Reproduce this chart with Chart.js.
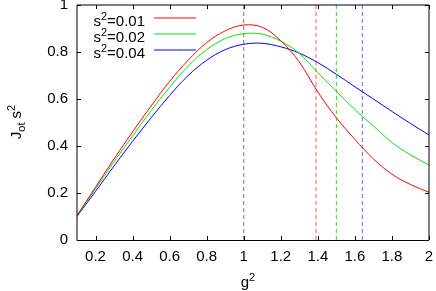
<!DOCTYPE html>
<html>
<head>
<meta charset="utf-8">
<script src="https://cdn.jsdelivr.net/npm/chart.js@4/dist/chart.umd.min.js"></script>
<style>
  html, body { margin: 0; padding: 0; background: #fff; }
</style>
</head>
<body>
<canvas id="chart" width="436" height="291"></canvas>
<script>
// g^2 values along the x axis
const gSquared = [0.1, 0.2, 0.3, 0.4, 0.5, 0.6, 0.7, 0.8, 0.9, 1.0, 1.1, 1.2, 1.3, 1.4, 1.5, 1.6, 1.7, 1.8, 1.9, 2.0];
// J_ot s^2 for each s^2
const jRed   = [0.105, 0.225, 0.345, 0.46, 0.57, 0.675, 0.765, 0.84, 0.89, 0.915, 0.905, 0.848, 0.757, 0.63, 0.52, 0.428, 0.345, 0.28, 0.236, 0.203];
const jGreen = [0.103, 0.218, 0.333, 0.443, 0.55, 0.65, 0.74, 0.81, 0.857, 0.878, 0.876, 0.846, 0.794, 0.712, 0.633, 0.555, 0.485, 0.415, 0.362, 0.319];
const jBlue  = [0.1, 0.207, 0.315, 0.42, 0.52, 0.615, 0.7, 0.765, 0.81, 0.833, 0.837, 0.822, 0.795, 0.755, 0.705, 0.652, 0.6, 0.547, 0.496, 0.447];
const sLabels = ['0.01', '0.02', '0.04'];
const seriesColors = ['#ff0000', '#00e600', '#0000ff'];
const legendColors = ['#ff8080', '#80f080', '#8080ff'];
// vertical dashed markers
const markerX = [1.0, 1.39, 1.5, 1.64];
const markerColors = ['rgba(60,60,60,0.7)', 'rgba(255,60,60,0.85)', 'rgba(0,220,0,0.85)', 'rgba(70,70,255,0.85)'];
const xTicks = [0.2, 0.4, 0.6, 0.8, 1, 1.2, 1.4, 1.6, 1.8, 2];
const yTicks = [0, 0.2, 0.4, 0.6, 0.8, 1];

const FONT = 'Liberation Sans, Arial, sans-serif';

function pts(ys) {
  return gSquared.map((g, i) => ({ x: g, y: ys[i] }));
}

let datasets = [jRed, jGreen, jBlue].map((ys, i) => ({
  data: pts(ys),
  borderColor: seriesColors[i],
  borderWidth: 1,
  pointRadius: 0,
  tension: 0.35,
  fill: false
}));

markerX.forEach((mx, i) => {
  datasets.push({
    data: [{ x: mx, y: 0 }, { x: mx, y: 1 }],
    borderColor: markerColors[i],
    borderWidth: 1,
    borderDash: [4, 3],
    pointRadius: 0,
    fill: false
  });
});

// draws a run of text pieces with sizes and vertical shifts
function richText(ctx, parts, x, y, align) {
  let total = 0;
  parts.forEach(p => { ctx.font = p.size + 'px ' + FONT; total += ctx.measureText(p.t).width; });
  let cx = align === 'right' ? x - total : (align === 'center' ? x - total / 2 : x);
  ctx.textAlign = 'left';
  ctx.textBaseline = 'alphabetic';
  parts.forEach(p => {
    ctx.font = p.size + 'px ' + FONT;
    ctx.fillText(p.t, cx, y + (p.dy || 0));
    cx += ctx.measureText(p.t).width;
  });
}

const decor = {
  id: 'decor',
  afterDraw(chart) {
    const ctx = chart.ctx, a = chart.chartArea;
    const xs = chart.scales.x, ys = chart.scales.y;
    ctx.save();
    ctx.setLineDash([]);
    ctx.globalAlpha = 1;

    // frame
    ctx.lineWidth = 1;
    ctx.strokeStyle = '#000';
    ctx.beginPath();
    ctx.moveTo(a.left, a.top); ctx.lineTo(a.right, a.top);
    ctx.lineTo(a.right, a.bottom);
    ctx.moveTo(a.left, a.top); ctx.lineTo(a.left, a.bottom + 0.5);
    ctx.stroke();
    ctx.beginPath();
    ctx.moveTo(a.left, a.bottom + 0.5); ctx.lineTo(a.right, a.bottom + 0.5);
    ctx.stroke();

    // inward ticks on all sides
    ctx.beginPath();
    xTicks.forEach(v => {
      const px = Math.round(xs.getPixelForValue(v)) + 0.5;
      ctx.moveTo(px, a.bottom); ctx.lineTo(px, a.bottom - 4);
      ctx.moveTo(px, a.top); ctx.lineTo(px, a.top + 4);
    });
    yTicks.forEach(v => {
      const py = Math.round(ys.getPixelForValue(v)) + 0.5;
      ctx.moveTo(a.left, py); ctx.lineTo(a.left + 4, py);
      ctx.moveTo(a.right, py); ctx.lineTo(a.right - 4, py);
    });
    ctx.stroke();

    // legend: sample lines (two soft rows like the antialiased original)
    sLabels.forEach((lab, i) => {
      ctx.fillStyle = legendColors[i];
      ctx.fillRect(154, 17 + i * 16, 42, 2);
    });
    // legend: labels
    ctx.fillStyle = '#000';
    sLabels.forEach((lab, i) => {
      richText(ctx, [
        { t: 's', size: 15 },
        { t: '2', size: 11, dy: -6 },
        { t: '=' + lab, size: 15 }
      ], 145, 25.5 + i * 16, 'right');
    });

    // x title
    richText(ctx, [{ t: 'g', size: 15 }, { t: '2', size: 11, dy: -6 }], 248, 287, 'center');

    // y title
    ctx.translate(21, 122);
    ctx.rotate(-Math.PI / 2);
    richText(ctx, [
      { t: 'J', size: 15 },
      { t: 'ot', size: 11, dy: 4 },
      { t: ' s', size: 15 },
      { t: '2', size: 11, dy: -6 }
    ], 0, 0, 'center');

    ctx.restore();
  }
};

new Chart(document.getElementById('chart'), {
  type: 'line',
  data: { datasets: datasets },
  options: {
    responsive: false,
    animation: false,
    devicePixelRatio: 1,
    layout: { padding: { top: 5, right: 7, left: 0, bottom: 0 } },
    plugins: { legend: { display: false }, tooltip: { enabled: false } },
    scales: {
      x: {
        type: 'linear',
        min: 0.1,
        max: 2,
        afterBuildTicks: s => { s.ticks = xTicks.map(v => ({ value: v })); },
        afterFit: s => { s.height = 51; s.paddingLeft = 0; s.paddingRight = 0; },
        grid: { display: false, drawTicks: false },
        border: { display: false },
        ticks: {
          autoSkip: false, maxRotation: 0, padding: 8,
          color: '#000', font: { family: FONT, size: 15 },
          callback: v => String(v)
        }
      },
      y: {
        min: 0,
        max: 1,
        afterBuildTicks: s => { s.ticks = yTicks.map(v => ({ value: v })); },
        afterFit: s => { s.width = 77; s.paddingTop = 0; s.paddingBottom = 0; },
        grid: { display: false, drawTicks: false },
        border: { display: false },
        ticks: {
          padding: 9,
          color: '#000', font: { family: FONT, size: 15 },
          callback: v => String(v)
        }
      }
    }
  },
  plugins: [decor]
});
</script>
</body>
</html>
